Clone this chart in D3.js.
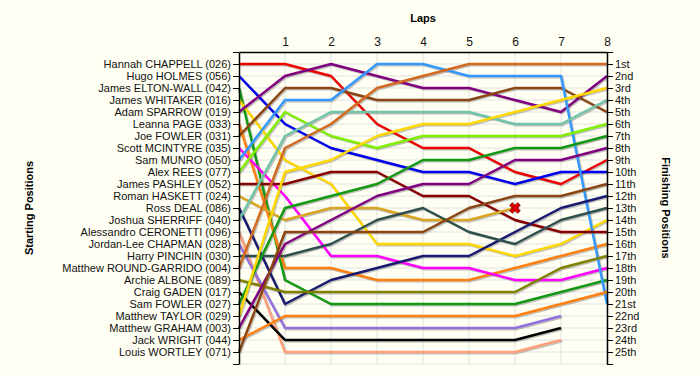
<!DOCTYPE html>
<html>
<head>
<meta charset="utf-8">
<script src="https://cdn.jsdelivr.net/npm/d3@7"></script>
<style>
  body { margin: 0; background: #fffff3; }
  svg { display: block; font-family: "Liberation Sans", Arial, sans-serif; }
</style>
</head>
<body>
<svg width="700" height="375"></svg>
<script>
// riders in starting order
const riders = [
    "Hannah CHAPPELL (026)", "Hugo HOLMES (056)", "James ELTON-WALL (042)",
    "James WHITAKER (016)", "Adam SPARROW (019)", "Leanna PAGE (033)",
    "Joe FOWLER (031)", "Scott MCINTYRE (035)", "Sam MUNRO (050)",
    "Alex REES (077)", "James PASHLEY (052)", "Roman HASKETT (024)",
    "Ross DEAL (086)", "Joshua SHERRIFF (040)", "Alessandro CERONETTI (096)",
    "Jordan-Lee CHAPMAN (028)", "Harry PINCHIN (030)", "Matthew ROUND-GARRIDO (004)",
    "Archie ALBONE (089)", "Craig GADEN (017)", "Sam FOWLER (027)",
    "Matthew TAYLOR (029)", "Matthew GRAHAM (003)", "Jack WRIGHT (044)",
    "Louis WORTLEY (071)"
];

// position of each rider at lap 0..8 (shorter rows = lapped or out)
const positions = [
    [1, 1, 2, 6, 8, 8, 10, 11, 9],
    [2, 6, 8, 9, 10, 10, 11, 10, 10],
    [3, 19, 21, 21, 21, 21, 21, 20, 19],
    [4, 9, 11, 16, 16, 16, 17, 16, 14],
    [5, 2, 1, 2, 3, 3, 4, 5, 2],
    [6, 18, 18, 19, 19, 19, 18, 17, 16],
    [7, 3, 3, 4, 4, 4, 3, 3, 5],
    [8, 12, 17, 17, 18, 18, 19, 19, 18],
    [9, 4, 4, 1, 1, 2, 2, 2, 21],
    [10, 5, 7, 8, 7, 7, 7, 7, 6],
    [11, 11, 10, 10, 12, 12, 14, 15, 15],
    [12, 14, 13, 13, 14, 14, 13],
    [13, 21, 19, 18, 17, 17, 15, 13, 12],
    [14, 7, 5, 5, 5, 5, 6, 6, 4],
    [15, 25, 25, 25, 25, 25, 25, 24],
    [16, 23, 23, 23, 23, 23, 23, 22],
    [17, 17, 16, 14, 13, 15, 16, 14, 13],
    [18, 8, 6, 3, 2, 1, 1, 1, 1],
    [19, 20, 20, 20, 20, 20, 20, 18, 17],
    [20, 24, 24, 24, 24, 24, 24, 23],
    [21, 13, 12, 11, 9, 9, 8, 8, 7],
    [22, 10, 9, 7, 6, 6, 5, 4, 3],
    [23, 16, 14, 12, 11, 11, 9, 9, 8],
    [24, 22, 22, 22, 22, 22, 22, 21, 20],
    [25, 15, 15, 15, 15, 13, 12, 12, 11]
];

const lapTicks = [1, 2, 3, 4, 5, 6, 7, 8];
const finishLabels = [
    "1st", "2nd", "3rd", "4th", "5th", "6th", "7th", "8th", "9th", "10th",
    "11th", "12th", "13th", "14th", "15th", "16th", "17th", "18th", "19th", "20th",
    "21st", "22nd", "23rd", "24th", "25th"
];
const crashedRider = 11; // index into riders, went out on lap 6

const palette = [
    "#ee0000", "#0000ee", "#119911", "#ffd800", "#800080",
    "#ff8010", "#8b4513", "#ff00ff", "#3399ff", "#80ee00",
    "#880000", "#daa520", "#191970", "#70c4a8", "#ffa07a",
    "#9370db", "#2f4f4f", "#d2691e", "#808000", "#000000",
    "#119911", "#ffd800", "#800080", "#ff8010", "#8b4513"
];

const margin = { left: 239, right: 93, top: 52, bottom: 11 };

const svg = d3.select("svg");
const width = +svg.attr("width");
const height = +svg.attr("height");

const x = d3.scaleLinear([0, 8], [margin.left, width - margin.right]);
const y = d3.scaleLinear([0, 26], [margin.top, height - margin.bottom]);

const grid = selection => {
    let g = selection.append("g").attr("class", "grid")
        .attr("stroke", "#e2e2e2").attr("stroke-width", 1);
    g.selectAll(".h")
        .data(d3.range(1, 27))
        .join("line")
        .attr("class", "h")
        .attr("x1", x(0)).attr("x2", x(8))
        .attr("y1", d => y(d)).attr("y2", d => y(d));
    g.selectAll(".v")
        .data(lapTicks)
        .join("line")
        .attr("class", "v")
        .attr("x1", d => x(d)).attr("x2", d => x(d))
        .attr("y1", y(0)).attr("y2", y(26));
}

const styleAxis = g => {
    g.select(".domain").attr("stroke", "#000").attr("stroke-width", 1.5);
    g.selectAll(".tick line").attr("stroke", "#000");
    g.selectAll("text").attr("fill", "#111").style("font-size", "11px");
}

const axes = selection => {
    selection.append("g")
        .attr("transform", `translate(${x(0)},0)`)
        .call(d3.axisLeft(y).tickValues(d3.range(0, 27))
            .tickFormat(d => riders[d - 1] || "")
            .tickSize(6).tickSizeOuter(0).tickPadding(2))
        .call(styleAxis);
    selection.append("g")
        .attr("transform", `translate(${x(8)},0)`)
        .call(d3.axisRight(y).tickValues(d3.range(0, 27))
            .tickFormat(d => finishLabels[d - 1] || "")
            .tickSize(6).tickSizeOuter(0).tickPadding(2))
        .call(styleAxis);
    selection.append("g")
        .attr("transform", `translate(0,${y(0)})`)
        .call(d3.axisTop(x).tickValues(lapTicks)
            .tickSize(0).tickSizeOuter(0).tickPadding(6))
        .call(styleAxis)
        .call(g => g.selectAll("text").style("font-size", "12px"));
}

const titles = selection => {
    let t = selection.append("g")
        .style("font-size", "11px").style("font-weight", "bold")
        .attr("fill", "#000").attr("text-anchor", "middle");
    t.append("text").attr("x", (x(0) + x(8)) / 2).attr("y", 22).text("Laps");
    t.append("text")
        .attr("transform", `translate(33,${y(13)}) rotate(-90)`)
        .text("Starting Positions");
    t.append("text")
        .attr("transform", `translate(662,${y(13)}) rotate(90)`)
        .text("Finishing Positions");
}

const lines = selection => {
    let line = d3.line()
        .x((p, i) => x(i))
        .y(p => y(p));
    selection.append("g")
        .attr("transform", "translate(1.2,1.2)")
        .selectAll("path")
        .data(positions)
        .join("path")
        .attr("fill", "none")
        .attr("stroke", "#777")
        .attr("stroke-opacity", 0.45)
        .attr("stroke-width", 2.5)
        .attr("d", line);
    selection.append("g")
        .selectAll("path")
        .data(positions)
        .join("path")
        .attr("fill", "none")
        .attr("stroke", (d, i) => palette[i])
        .attr("stroke-width", 2.5)
        .attr("stroke-linejoin", "round")
        .attr("d", line);
}

const crashMarker = selection => {
    let p = positions[crashedRider];
    let lap = p.length - 1;
    selection.append("path")
        .attr("d", d3.symbol(d3.symbolCross, 70)())
        .attr("transform", `translate(${x(lap)},${y(p[lap])}) rotate(45)`)
        .attr("fill", "#e00000")
        .attr("stroke", "#700")
        .attr("stroke-width", 0.8);
}

svg.call(grid)
    .call(lines)
    .call(crashMarker)
    .call(axes)
    .call(titles);
</script>
</body>
</html>
